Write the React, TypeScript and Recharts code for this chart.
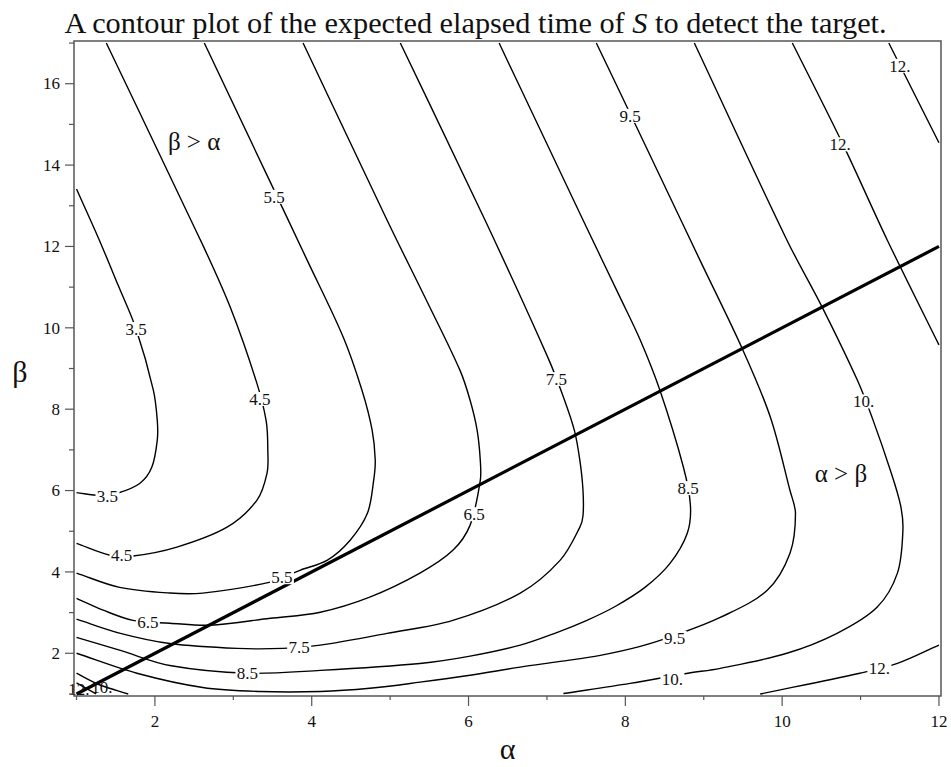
import { ComposedChart, Line, XAxis, YAxis, Scatter, ReferenceArea } from 'recharts';

// the figure fills the 951x767 page exactly: no scrollbars, no body margin
if (typeof document !== 'undefined') {
  document.documentElement.style.overflow = 'hidden';
  document.body.style.margin = '0';
}

// ─── Data (α, β) ────────────────────────────────────────────────────
const alphaTicks = [1, 2, 3, 4, 5, 6, 7, 8, 9, 10, 11, 12];
const betaTicks = [1, 2, 3, 4, 5, 6, 7, 8, 9, 10, 11, 12, 13, 14, 15, 16, 17];

const c35 = [[1.0, 13.41], [1.29, 12.16], [1.53, 11.05], [1.76, 9.97], [1.98, 8.47], [2.03, 7.73], [2.03, 7.24], [1.96, 6.57], [1.81, 6.18], [1.53, 5.94], [1.3, 5.88], [1.0, 5.95]];
const c45 = [[1.38, 17.0], [2.58, 12.16], [2.96, 10.51], [3.3, 8.64], [3.42, 7.7], [3.44, 6.99], [3.43, 6.43], [3.3, 5.76], [2.92, 5.1], [2.28, 4.61], [1.72, 4.39], [1.43, 4.41], [1.0, 4.7]];
const c55 = [[2.63, 17.0], [3.44, 13.71], [3.94, 11.67], [4.4, 9.78], [4.64, 8.47], [4.77, 7.49], [4.81, 6.75], [4.79, 6.25], [4.71, 5.44], [4.49, 4.78], [4.2, 4.29], [3.85, 4.04], [3.47, 3.75], [2.61, 3.48], [2.19, 3.48], [1.55, 3.62], [1.0, 3.97]];
const c65 = [[3.89, 17.0], [4.96, 12.65], [5.48, 10.61], [5.89, 8.96], [6.02, 8.22], [6.11, 7.48], [6.15, 6.74], [6.15, 6.25], [6.02, 5.15], [5.8, 4.53], [5.38, 3.97], [4.74, 3.38], [4.11, 3.01], [3.47, 2.86], [2.7, 2.69], [2.19, 2.74], [1.72, 2.81], [1.34, 3.06], [1.0, 3.35]];
const c75 = [[5.13, 17.0], [6.21, 12.65], [7.01, 9.28], [7.21, 8.3], [7.35, 7.48], [7.42, 6.74], [7.46, 6.0], [7.46, 5.38], [7.42, 5.1], [7.17, 4.29], [6.66, 3.48], [5.8, 2.81], [4.96, 2.49], [4.11, 2.2], [3.63, 2.12], [3.05, 2.12], [2.19, 2.24], [1.56, 2.49], [1.0, 2.84]];
const c85 = [[6.39, 17.0], [7.46, 12.65], [7.93, 10.76], [8.19, 9.7], [8.44, 8.47], [8.74, 6.58], [8.83, 5.64], [8.79, 4.95], [8.57, 4.21], [8.25, 3.62], [7.87, 3.15], [7.51, 2.81], [7.1, 2.49], [6.66, 2.2], [6.02, 1.93], [5.38, 1.75], [4.11, 1.58], [3.18, 1.51], [2.19, 1.7], [1.56, 2.07], [1.0, 2.39]];
const c95 = [[7.63, 17.0], [8.16, 14.87], [8.95, 11.67], [9.5, 9.45], [9.85, 7.8], [10.1, 6.0], [10.17, 5.44], [10.1, 4.46], [9.81, 3.55], [9.21, 2.88], [8.63, 2.44], [8.19, 2.17], [7.68, 1.95], [7.17, 1.8], [6.66, 1.66], [6.02, 1.46], [5.38, 1.29], [4.74, 1.14], [4.11, 1.06], [3.34, 1.06], [2.61, 1.16], [1.77, 1.51], [1.0, 2.0]];
const c105 = [[8.88, 17.0], [10.06, 12.16], [10.51, 10.51], [10.96, 8.71], [11.15, 7.78], [11.38, 6.5], [11.51, 5.64], [11.54, 5.02], [11.47, 3.97], [11.21, 3.13], [10.7, 2.49], [10.06, 2.0], [9.21, 1.63], [8.8, 1.51], [8.06, 1.26], [7.21, 1.01]];
const c105corner = [[1.0, 1.51], [1.3, 1.22], [1.66, 1.0]];
const c115 = [[10.13, 17.0], [10.78, 14.49], [11.34, 12.16], [12.0, 9.58]];
const c115low = [[9.72, 1.0], [10.99, 1.51], [11.47, 1.75], [12.0, 2.2]];
const c115corner = [[1.0, 1.27], [1.25, 1.0]];
const c125 = [[11.36, 17.0], [12.0, 14.55]];

const diagonal = [[1, 1], [12, 12]];

const contours = [c35, c45, c55, c65, c75, c85, c95, c105, c105corner, c115, c115low, c115corner, c125];

// contour labels: α, β, text (the two in the corner sit on the lines, no gap)
const contourLabels: [number, number, string][] = [
  [1.76, 9.97, '3.5'], [1.395, 5.86, '3.5'],
  [3.34, 8.25, '4.5'], [1.574, 4.41, '4.5'],
  [3.52, 13.22, '5.5'], [3.62, 3.87, '5.5'],
  [6.07, 5.42, '6.5'], [1.91, 2.75, '6.5'],
  [7.12, 8.74, '7.5'], [3.84, 2.15, '7.5'],
  [8.8, 6.06, '8.5'], [3.18, 1.51, '8.5'],
  [8.06, 15.21, '9.5'], [8.63, 2.38, '9.5'],
  [11.04, 8.19, '10.'], [8.6, 1.37, '10.'],
  [11.5, 16.44, '12.'], [10.74, 14.51, '12.'], [11.24, 1.62, '12.'],
];
const cornerLabels: [number, number, string][] = [
  [1.325, 1.17, '10.'], [1.03, 1.11, '12.'],
];

const regionLabels: [number, number, string][] = [
  [2.5, 14.55, 'β > α'],
  [10.75, 6.38, 'α > β'],
];

const FONT = '"Liberation Serif", "Times New Roman", Times, serif';
const toPts = (arr: number[][]) => arr.map(([a, b]) => ({ a, b }));
const toLabels = (arr: [number, number, string][]) => arr.map(([a, b, t]) => ({ a, b, t }));

// chord-weighted Catmull-Rom curve (contours double back, so no monotone curve)
function contourCurve(context: any) {
  let pts: number[][] = [];
  return {
    areaStart() {},
    areaEnd() {},
    lineStart() { pts = []; },
    point(x: number, y: number) { pts.push([+x, +y]); },
    lineEnd() {
      if (!pts.length) return;
      context.moveTo(pts[0][0], pts[0][1]);
      const d = (p: number[], q: number[]) => Math.hypot(q[0] - p[0], q[1] - p[1]);
      for (let i = 0; i < pts.length - 1; i++) {
        const p1 = pts[i];
        const p2 = pts[i + 1];
        const p0 = pts[i - 1] || p1;
        const p3 = pts[i + 2] || p2;
        const d01 = d(p0, p1), d12 = d(p1, p2), d23 = d(p2, p3);
        const k1 = d01 + d12 > 0 ? d12 / (d01 + d12) : 0;
        const k2 = d12 + d23 > 0 ? d12 / (d12 + d23) : 0;
        const m1x = (p2[0] - p0[0]) * k1, m1y = (p2[1] - p0[1]) * k1;
        const m2x = (p3[0] - p1[0]) * k2, m2y = (p3[1] - p1[1]) * k2;
        context.bezierCurveTo(
          p1[0] + m1x / 3, p1[1] + m1y / 3,
          p2[0] - m2x / 3, p2[1] - m2y / 3,
          p2[0], p2[1],
        );
      }
    },
  };
}

const textStyle = (size: number) => ({ fontFamily: FONT, fontSize: size, fill: '#111' });

function AlphaTick(props: any) {
  const { x, y, payload } = props;
  const major = payload.value % 2 === 0;
  return (
    <g>
      <line x1={x} x2={x} y1={y} y2={y + (major ? 10 : 4)} stroke="#555" strokeWidth={1.2} />
      {major && (
        <text x={x} y={y + 31} textAnchor="middle" style={textStyle(17)}>
          {payload.value}
        </text>
      )}
    </g>
  );
}

function BetaTick(props: any) {
  const { x, y, payload } = props;
  const major = payload.value % 2 === 0;
  return (
    <g>
      <line x1={x - (major ? 9 : 5)} x2={x} y1={y} y2={y} stroke="#555" strokeWidth={1.2} />
      {major && (
        <text x={x - 14} y={y + 5.7} textAnchor="end" style={textStyle(17)}>
          {payload.value}
        </text>
      )}
    </g>
  );
}

function ContourLabel(props: any) {
  const { cx, cy } = props;
  const t = props.payload?.t ?? props.t;
  return (
    <g>
      <rect x={cx - 12} y={cy - 7} width={24} height={14} fill="#fff" />
      <text x={cx} y={cy + 5.7} textAnchor="middle" style={textStyle(17)}>
        {t}
      </text>
    </g>
  );
}

function PlainLabel(props: any) {
  const { cx, cy } = props;
  const t = props.payload?.t ?? props.t;
  return (
    <text x={cx} y={cy + 5.7} textAnchor="middle" style={textStyle(17)}>
      {t}
    </text>
  );
}

function RegionLabel(props: any) {
  const { cx, cy } = props;
  const t = props.payload?.t ?? props.t;
  return (
    <text x={cx} y={cy + 7} textAnchor="middle" style={textStyle(25)}>
      {t}
    </text>
  );
}

export default function App() {
  return (
    <div style={{ position: 'relative', width: 951, height: 767, fontFamily: FONT, color: '#111', background: '#fff' }}>
      <div
        style={{
          position: 'absolute', top: 8, left: 8, width: 935, textAlign: 'center',
          fontSize: 30.3, lineHeight: '30px', whiteSpace: 'nowrap',
        }}
      >
        A contour plot of the expected elapsed time of <i>S</i> to detect the target.
      </div>
      <div style={{ position: 'absolute', top: 734, left: 477.5, width: 60, textAlign: 'center', fontSize: 30, lineHeight: '30px' }}>
        α
      </div>
      <div style={{ position: 'absolute', top: 357, left: -10, width: 60, textAlign: 'center', fontSize: 30, lineHeight: '30px' }}>
        β
      </div>
      <div style={{ position: 'absolute', top: 8, left: 8 }}>
        <ComposedChart width={943} height={738} margin={{ top: 33, right: 10, bottom: 0, left: 0 }}>
          <XAxis
            type="number" dataKey="a" domain={[0.968, 12.026]}
            ticks={alphaTicks} interval={0} tickSize={0} tickMargin={0}
            axisLine={false} tick={<AlphaTick />} height={50}
          />
          <YAxis
            type="number" dataKey="b" domain={[0.95, 17.05]}
            ticks={betaTicks} interval={0} tickSize={0} tickMargin={0}
            axisLine={false} tick={<BetaTick />} width={66}
          />
          <ReferenceArea
            x1={0.968} x2={12.026} y1={0.95} y2={17.05} ifOverflow="visible"
            fill="none" stroke="#555" strokeWidth={1.5}
          />
          {contours.map((c, i) => (
            <Line
              key={i} data={toPts(c)} dataKey="b" type={contourCurve as any} stroke="#000" strokeWidth={1.4}
              dot={false} activeDot={false} isAnimationActive={false}
            />
          ))}
          <Scatter data={toLabels(contourLabels)} dataKey="b" shape={<ContourLabel />} isAnimationActive={false} />
          <Scatter data={toLabels(cornerLabels)} dataKey="b" shape={<PlainLabel />} isAnimationActive={false} />
          <Scatter data={toLabels(regionLabels)} dataKey="b" shape={<RegionLabel />} isAnimationActive={false} />
          <Line
            data={toPts(diagonal)} dataKey="b" type="linear" stroke="#000" strokeWidth={3.2}
            dot={false} activeDot={false} isAnimationActive={false}
          />
        </ComposedChart>
      </div>
    </div>
  );
}
